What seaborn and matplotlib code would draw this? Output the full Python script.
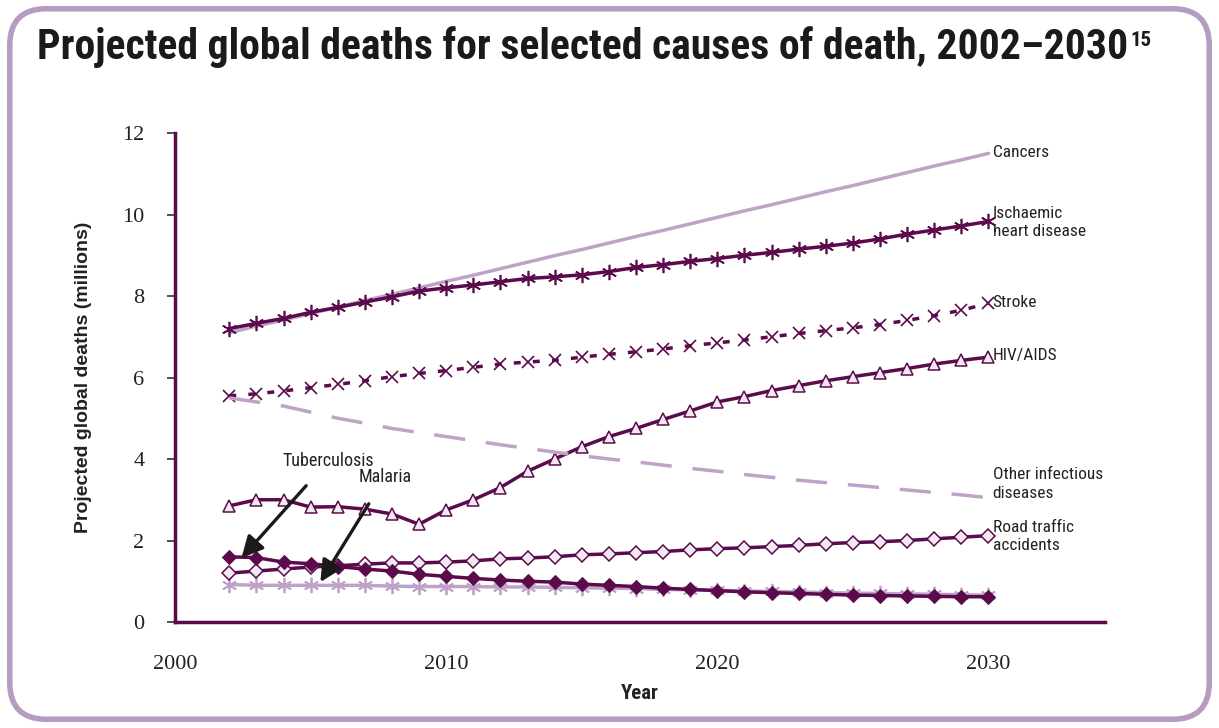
import matplotlib
matplotlib.use("Agg")
import matplotlib.pyplot as plt
from matplotlib.patches import FancyBboxPatch
from matplotlib import font_manager
import seaborn as sns
import pandas as pd

years = list(range(2002, 2031))

cancers = [7.10, 7.26, 7.41, 7.57, 7.73, 7.89, 8.04, 8.20, 8.36, 8.51, 8.67, 8.83, 8.99, 9.14,
           9.30, 9.46, 9.61, 9.77, 9.93, 10.09, 10.24, 10.40, 10.56, 10.71, 10.87, 11.03, 11.19,
           11.34, 11.50]
ischaemic = [7.20, 7.33, 7.45, 7.60, 7.72, 7.85, 7.98, 8.12, 8.20, 8.27, 8.35, 8.43, 8.47, 8.52,
             8.60, 8.70, 8.77, 8.85, 8.92, 9.00, 9.07, 9.15, 9.22, 9.30, 9.40, 9.52, 9.62, 9.72,
             9.83]
stroke = [5.55, 5.60, 5.67, 5.75, 5.83, 5.92, 6.02, 6.10, 6.17, 6.25, 6.33, 6.38, 6.42, 6.50,
          6.57, 6.63, 6.70, 6.78, 6.85, 6.92, 7.00, 7.08, 7.15, 7.22, 7.30, 7.40, 7.52, 7.65, 7.82]
hiv = [2.85, 3.00, 3.00, 2.82, 2.83, 2.77, 2.65, 2.40, 2.75, 3.00, 3.30, 3.70, 4.00, 4.30, 4.55,
       4.75, 4.97, 5.18, 5.40, 5.53, 5.68, 5.80, 5.92, 6.02, 6.12, 6.22, 6.33, 6.42, 6.50]
other_infectious = [5.50, 5.40, 5.30, 5.15, 5.00, 4.88, 4.75, 4.65, 4.55, 4.45, 4.35, 4.26, 4.17,
                    4.08, 4.00, 3.93, 3.85, 3.77, 3.70, 3.62, 3.55, 3.48, 3.42, 3.36, 3.30, 3.24,
                    3.18, 3.12, 3.05]
road_traffic = [1.20, 1.25, 1.30, 1.35, 1.38, 1.42, 1.45, 1.45, 1.47, 1.50, 1.55, 1.57, 1.60, 1.65,
                1.67, 1.70, 1.73, 1.77, 1.80, 1.82, 1.85, 1.88, 1.92, 1.95, 1.97, 2.00, 2.04, 2.08,
                2.12]
tuberculosis = [1.60, 1.58, 1.47, 1.43, 1.36, 1.30, 1.25, 1.17, 1.12, 1.07, 1.03, 1.00, 0.98, 0.93,
                0.90, 0.87, 0.83, 0.80, 0.77, 0.74, 0.72, 0.70, 0.68, 0.66, 0.65, 0.64, 0.63, 0.62,
                0.62]
malaria = [0.92, 0.90, 0.90, 0.90, 0.90, 0.90, 0.88, 0.87, 0.87, 0.87, 0.86, 0.86, 0.85, 0.84, 0.83,
           0.82, 0.80, 0.79, 0.78, 0.76, 0.75, 0.74, 0.72, 0.71, 0.70, 0.69, 0.68, 0.67, 0.66]

y_ticks = [0, 2, 4, 6, 8, 10, 12]
x_ticks = [2000, 2010, 2020, 2030]

DARK = "#5b0b4c"
LIGHT = "#bfa2c8"
HOLLOW = "#f1e9f2"

sns.set_theme(style="white")
names = {f.name for f in font_manager.fontManager.ttflist}
narrow = "DejaVu Sans"
for cand in ["Roboto Condensed", "Archivo Narrow", "PT Sans Narrow", "IBM Plex Sans Condensed",
             "Open Sans Condensed"]:
    if cand in names:
        narrow = cand
        break
NARROW = [narrow, "DejaVu Sans"]
plt.rcParams['font.family'] = ['Liberation Sans', 'DejaVu Sans']

fig = plt.figure(figsize=(12.19, 7.28), dpi=100)
ax = fig.add_axes([0.1436, 0.1456, 0.7629, 0.6717])

series = [
    (cancers, dict(color=LIGHT, linewidth=2.5, marker=None)),
    (ischaemic, dict(color=DARK, linewidth=2.5, marker=(6, 2, 0), markersize=11,
                     markeredgecolor=DARK, markeredgewidth=1.2)),
    (stroke, dict(color=DARK, linewidth=2.5, linestyle=(0, (2, 3.5)), marker="x", markersize=9,
                  markeredgecolor=DARK, markeredgewidth=1.2)),
    (hiv, dict(color=DARK, linewidth=2.5, marker="^", markersize=9, markerfacecolor=HOLLOW,
               markeredgecolor=DARK, markeredgewidth=1.1)),
    (other_infectious, dict(color=LIGHT, linewidth=2.5, linestyle=(0, (9, 6)), marker=None)),
    (malaria, dict(color=LIGHT, linewidth=2.5, marker=(6, 2, 0), markersize=11,
                   markeredgecolor=LIGHT, markeredgewidth=1.3)),
    (road_traffic, dict(color=DARK, linewidth=2.5, marker="D", markersize=7,
                        markerfacecolor=HOLLOW, markeredgecolor=DARK, markeredgewidth=1.1)),
    (tuberculosis, dict(color=DARK, linewidth=2.5, marker="D", markersize=7,
                        markerfacecolor=DARK, markeredgecolor=DARK)),
]
for vals, kw in series:
    df = pd.DataFrame({"Year": years, "Deaths": vals})
    sns.lineplot(data=df, x="Year", y="Deaths", ax=ax, **kw)

ax.set_xlim(2000, 2034.3)
ax.set_ylim(0, 12)
ax.set_xticks(x_ticks)
ax.set_yticks(y_ticks)
ax.tick_params(axis="y", which="both", left=True, length=6, width=1.2, color="#333333",
               labelsize=16, pad=16, labelcolor="#222222")
ax.tick_params(axis="x", bottom=False, labelsize=16, pad=18, labelcolor="#222222")
for lab in ax.get_xticklabels() + ax.get_yticklabels():
    lab.set_fontfamily(["Liberation Serif", "DejaVu Serif"])
for s in ["top", "right"]:
    ax.spines[s].set_visible(False)
for s in ["left", "bottom"]:
    ax.spines[s].set_color(DARK)
    ax.spines[s].set_linewidth(2.5)
ax.set_xlabel("Year", fontsize=15, fontweight="bold", family=NARROW,
              labelpad=7, color="#222222")
ax.set_ylabel("Projected global deaths (millions)", fontsize=14, fontweight="bold",
              labelpad=22, color="#222222")

lab_kw = dict(fontsize=12.5, family=NARROW, color="#222222", va="center",
              ha="left", linespacing=1.3)
ax.text(2030.15, 11.53, "Cancers", **lab_kw)
ax.text(2030.15, 9.8, "Ischaemic\nheart disease", **lab_kw)
ax.text(2030.15, 7.83, "Stroke", **lab_kw)
ax.text(2030.15, 6.53, "HIV/AIDS", **lab_kw)
ax.text(2030.15, 3.39, "Other infectious\ndiseases", **lab_kw)
ax.text(2030.15, 2.1, "Road traffic\naccidents", **lab_kw)

arr = dict(arrowstyle="-|>,head_length=1.0,head_width=0.5", color="#1a1a1a", lw=2.4,
           shrinkA=12, shrinkB=0)
ax.annotate("Tuberculosis", xy=(2002.45, 1.57), xytext=(2005.65, 3.95),
            arrowprops=arr, fontsize=13, family=NARROW, color="#222222",
            ha="center", va="center")
ax.annotate("Malaria", xy=(2005.36, 0.98), xytext=(2007.75, 3.55),
            arrowprops=arr, fontsize=13, family=NARROW, color="#222222",
            ha="center", va="center")

title = fig.text(0.03, 0.936, "Projected global deaths for selected causes of death, 2002\u20132030",
                 fontsize=30, fontweight="bold", family=NARROW, color="#1a1a1a",
                 ha="left", va="center")
fig.canvas.draw()
bb = title.get_window_extent().transformed(fig.transFigure.inverted())
fig.text(bb.x1 + 0.002, bb.y1 - 0.008, "15", fontsize=15, fontweight="bold", family=NARROW,
         color="#1a1a1a", ha="left", va="top")

frame = FancyBboxPatch((0.008, 0.012), 0.984, 0.976, boxstyle="round,pad=0,rounding_size=0.03",
                       transform=fig.transFigure, facecolor="none", edgecolor="#b79cc1",
                       linewidth=4, zorder=0, mutation_aspect=1219 / 728)
fig.patches.append(frame)

fig.savefig("out.png", dpi=100)
